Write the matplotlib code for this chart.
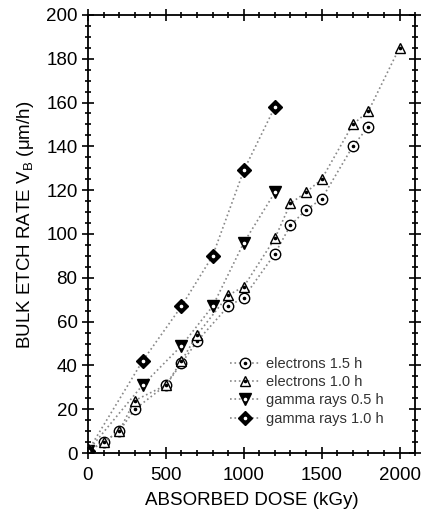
import numpy as np
import matplotlib.pyplot as plt
from matplotlib.legend_handler import HandlerTuple
from matplotlib.ticker import MultipleLocator

plt.rcParams['font.family'] = ['Liberation Sans', 'DejaVu Sans']

# electrons 1.5 h
e15_dose = [0, 100, 200, 300, 500, 600, 700, 900, 1000, 1200, 1300, 1400, 1500, 1700, 1800]
e15_rate = [1, 5, 10, 20, 31, 41, 51, 67, 71, 91, 104, 111, 116, 140, 149]
# electrons 1.0 h
e10_dose = [0, 100, 200, 300, 500, 600, 700, 900, 1000, 1200, 1300, 1400, 1500, 1700, 1800, 2000]
e10_rate = [1, 5, 10, 24, 31, 42, 54, 72, 76, 98, 114, 119, 125, 150, 156, 185]
# gamma rays 0.5 h
g05_dose = [0, 350, 600, 800, 1000, 1200]
g05_rate = [1, 31, 49, 67, 96, 119]
# gamma rays 1.0 h
g10_dose = [0, 350, 600, 800, 1000, 1200]
g10_rate = [1, 42, 67, 90, 129, 158]

fig = plt.figure(figsize=(4.21, 5.12), dpi=100)
ax = fig.add_axes([0.209, 0.115, 0.777, 0.856])

line_kw = dict(color='#888888', linestyle=':', linewidth=1.2)

handles = []
series = [
    (e15_dose, e15_rate, 'o', 'white', 7.5, 'electrons 1.5 h'),
    (e10_dose, e10_rate, '^', 'white', 7.5, 'electrons 1.0 h'),
    (g05_dose, g05_rate, 'v', 'black', 8, 'gamma rays 0.5 h'),
    (g10_dose, g10_rate, 'D', 'black', 7.5, 'gamma rays 1.0 h'),
]
for dose, rate, mk, fc, ms, label in series:
    l1, = ax.plot(dose, rate, marker=mk, markersize=ms, markerfacecolor=fc,
                  markeredgecolor='black', markeredgewidth=1.0, **line_kw)
    dotc = 'black' if fc == 'white' else 'white'
    l2, = ax.plot(dose, rate, marker='o', markersize=1.6, linestyle='none',
                  markerfacecolor=dotc, markeredgecolor=dotc)
    handles.append(((l1, l2), label))

ax.set_xlim(0, 2100)
ax.set_ylim(0, 200)
ax.xaxis.set_major_locator(MultipleLocator(500))
ax.xaxis.set_minor_locator(MultipleLocator(100))
ax.yaxis.set_major_locator(MultipleLocator(20))
ax.yaxis.set_minor_locator(MultipleLocator(5))
ax.tick_params(which='both', direction='inout', top=True, right=True,
               labelsize=13.5, width=1.2)
ax.tick_params(which='major', length=8)
ax.tick_params(which='minor', length=5)
ax.tick_params(axis='x', pad=6)
for s in ax.spines.values():
    s.set_linewidth(1.3)

ax.set_xlabel('ABSORBED DOSE (kGy)', fontsize=13.5, labelpad=6)
ax.set_ylabel(r'BULK ETCH RATE V$_\mathregular{B}$ ($\mathregular{\mu}$m/h)', fontsize=13.5)
ax.yaxis.set_label_coords(-0.16, 0.52)

leg = ax.legend([h for h, _ in handles], [t for _, t in handles],
                handler_map={tuple: HandlerTuple(ndivide=1)},
                loc='upper left', bbox_to_anchor=(0.434, 0.22), frameon=False,
                borderpad=0, borderaxespad=0,
                fontsize=10.5, handlelength=2.1, labelspacing=0.3, handletextpad=0.4)
for t in leg.get_texts():
    t.set_color('#333333')

fig.savefig('out.png', dpi=100)
